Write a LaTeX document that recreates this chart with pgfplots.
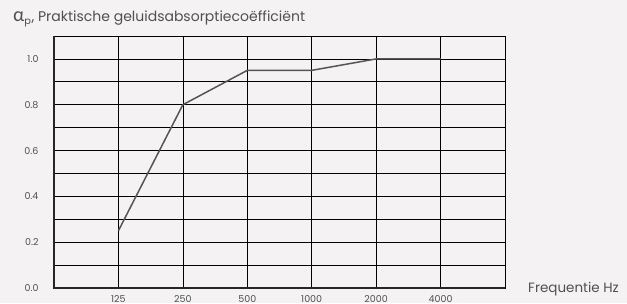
\documentclass[border=0pt]{standalone}
\usepackage{pgfplots}
\pgfplotsset{compat=1.18}
\usepackage{fontspec}
\setmainfont{Poppins}
\newfontfamily\greekfont{Lato}
\definecolor{bg}{HTML}{F4F2F3}
\definecolor{txt}{HTML}{505050}
\definecolor{ln}{HTML}{555555}
\begin{document}
\begin{tikzpicture}
\fill[bg] (-54pt,-15pt) rectangle (573pt,288pt);
\path[use as bounding box] (-54pt,-15pt) rectangle (573pt,288pt);
\begin{axis}[
  at={(0pt,0pt)}, anchor=origin,
  scale only axis, width=451pt, height=252pt,
  xmin=0, xmax=7, ymin=0, ymax=1.1,
  xtick={1,2,3,4,5,6},
  xticklabels={125,250,500,1000,2000,4000},
  ytick={0,0.2,0.4,0.6,0.8,1.0},
  minor ytick={0.1,0.3,0.5,0.7,0.9},
  yticklabel style={xshift=-12pt},
  yticklabel={\pgfmathprintnumber[fixed,fixed zerofill,precision=1,assume math mode=true]{\tick}},
  /pgf/number format/assume math mode=true,
  ticklabel style={font=\fontsize{9.5}{11}\selectfont, text=txt},
  xticklabel style={yshift=-4pt},
  major tick length=0pt, minor tick length=0pt,
  grid=both,
  major grid style={black, line width=0.7pt},
  minor grid style={black, line width=0.7pt},
  axis line style={black, line width=0.7pt},
  clip=false,
]
\addplot[ln, line width=1.5pt] coordinates {(1,0.25) (2,0.80) (3,0.95) (4,0.95) (5,1.00) (6,1.00)};
\draw[black!85, line width=1.6pt] (axis cs:0,1.1) -- (axis cs:0,0) -- (axis cs:7,0);
\end{axis}
\node[anchor=base west, text=txt, font=\fontsize{14}{16}\selectfont, inner sep=0pt] at (-41pt,266pt) {{\greekfont\fontsize{19}{20}\selectfont α}\textsubscript{p}, Praktische geluidsabsorptiecoëfficiënt};
\node[anchor=base west, text=txt, font=\fontsize{13.5}{15}\selectfont, inner sep=0pt] at (474pt,-4pt) {Frequentie Hz};
\end{tikzpicture}
\end{document}
